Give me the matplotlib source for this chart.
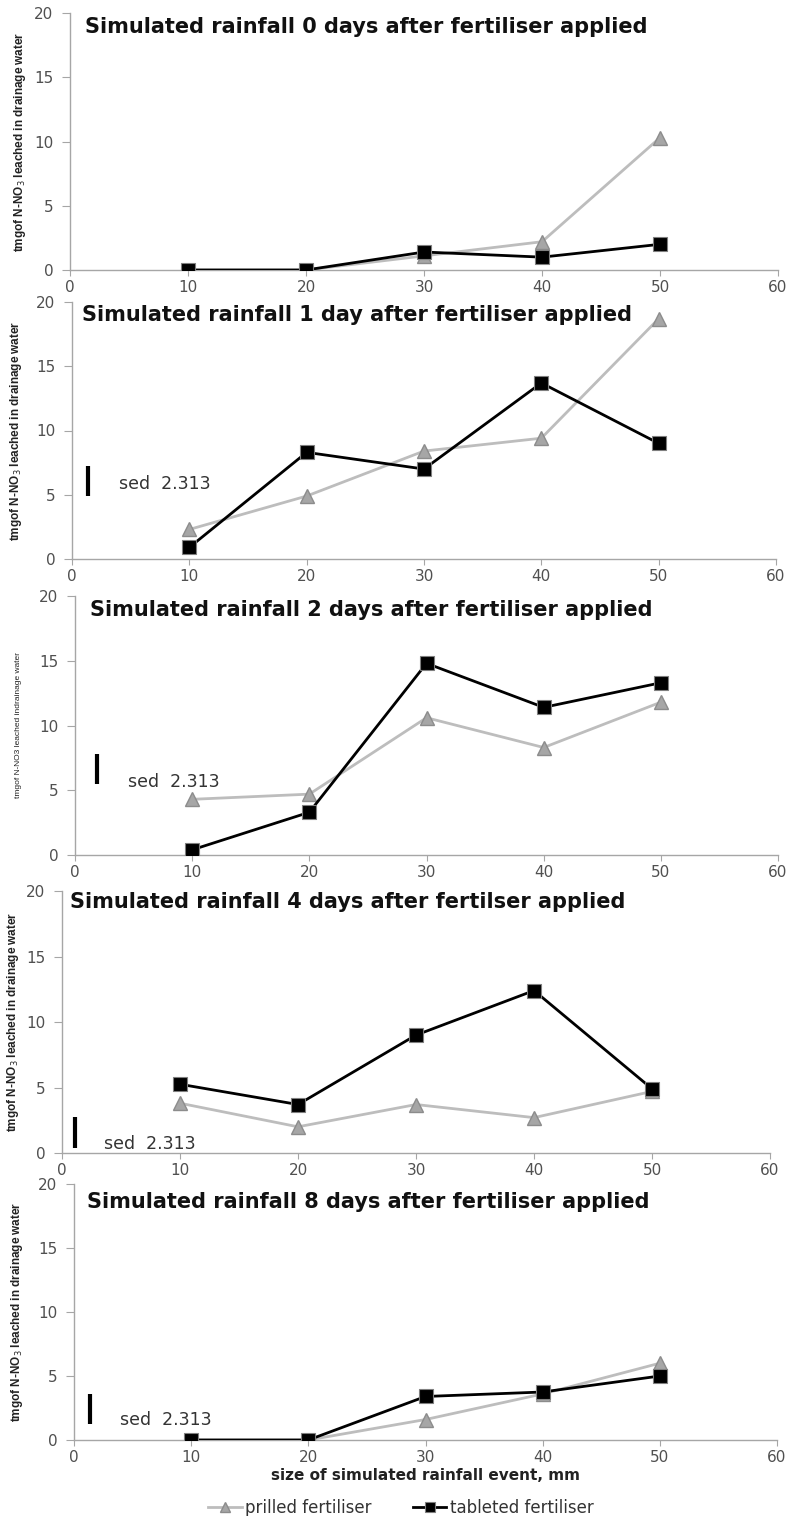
import numpy as np
import matplotlib.pyplot as plt

rain = [10, 20, 30, 40, 50]
days = [0, 1, 2, 4, 8]

prilled_0 = [0, 0, 1.1, 2.2, 10.3]
tableted_0 = [0, 0, 1.4, 1.0, 2.0]
prilled_1 = [2.3, 4.9, 8.4, 9.4, 18.7]
tableted_1 = [0.9, 8.3, 7.0, 13.7, 9.0]
prilled_2 = [4.3, 4.7, 10.6, 8.3, 11.8]
tableted_2 = [0.4, 3.3, 14.8, 11.4, 13.3]
prilled_4 = [3.8, 2.0, 3.7, 2.7, 4.7]
tableted_4 = [5.25, 3.7, 9.0, 12.4, 4.9]
prilled_8 = [0, 0, 1.6, 3.6, 6.0]
tableted_8 = [0, 0, 3.4, 3.75, 5.0]

sed = 2.313

titles = ["Simulated rainfall 0 days after fertiliser applied",
          "Simulated rainfall 1 day after fertiliser applied",
          "Simulated rainfall 2 days after fertiliser applied",
          "Simulated rainfall 4 days after fertilser applied",
          "Simulated rainfall 8 days after fertiliser applied"]
ylabels = [r"tmgof N-NO$_3$ leached in drainage water",
           r"tmgof N-NO$_3$ leached in drainage water",
           "tmgof N-NO3 leached indrainage water",
           r"tmgof N-NO$_3$ leached in drainage water",
           r"tmgof N-NO$_3$ leached in drainage water"]
prilled = [prilled_0, prilled_1, prilled_2, prilled_4, prilled_8]
tableted = [tableted_0, tableted_1, tableted_2, tableted_4, tableted_8]

# pixel boxes of each panel: left, right, top, bottom
W, H = 789, 1516
boxes = [(70, 778, 13, 270), (72, 776, 302, 559), (75, 778, 596, 855),
         (62, 770, 891, 1153), (74, 777, 1184, 1440)]
title_pos = [(0.021, 0.945), (0.014, 0.95), (0.022, 0.946), (0.011, 0.958), (0.018, 0.93)]
ylab_x = [-0.06, -0.068, -0.076, -0.058, -0.07]
# sed bar (x, bottom) and text (x, y) in data units; None for no bar
sed_bar = [None, (1.4, 4.9), (1.9, 5.5), (1.1, 0.4), (1.4, 1.25)]
sed_txt = [None, (4.0, 5.8), (4.5, 5.6), (3.6, 0.7), (3.9, 1.6)]

grey_line = "#bdbdbd"
tick_col = "#505050"
spine_col = "#a6a6a6"
narrow = ["Liberation Sans Narrow", "Liberation Sans", "DejaVu Sans"]

fig = plt.figure(figsize=(W / 100, H / 100), dpi=100)

for i in range(5):
    l, r, t, b = boxes[i]
    ax = fig.add_axes([l / W, 1 - b / H, (r - l) / W, (b - t) / H])
    ax.plot(rain, prilled[i], '-', color=grey_line, lw=2, marker='^', ms=10,
            mfc="#a6a6a6", mec="#8c8c8c", label="prilled fertiliser", zorder=3)
    ax.plot(rain, tableted[i], '-', color='black', lw=2, marker='s', ms=9.5,
            mfc='black', mec="#7f7f7f", mew=0.8, label="tableted fertiliser", zorder=4)

    ax.set_xlim(0, 60)
    ax.set_ylim(0, 20)
    ax.set_xticks(np.arange(0, 61, 10))
    ax.set_yticks(np.arange(0, 21, 5))
    for s in ['top', 'right']:
        ax.spines[s].set_visible(False)
    for s in ['left', 'bottom']:
        ax.spines[s].set_color(spine_col)
        ax.spines[s].set_linewidth(1)
    ax.tick_params(axis='both', colors=spine_col, labelcolor=tick_col, labelsize=11)
    ax.tick_params(axis='y', length=6, pad=6)
    ax.tick_params(axis='x', length=4, pad=3)

    ax.text(title_pos[i][0], title_pos[i][1], titles[i], transform=ax.transAxes,
            fontsize=15, fontweight='bold', color='#111111', va='center', ha='left')

    if i == 2:
        ax.set_ylabel(ylabels[i], fontsize=6, family=narrow, color='#222222')
    else:
        ax.set_ylabel(ylabels[i], fontsize=8.5, fontweight='bold', family=narrow, color='#222222')
    ax.yaxis.set_label_coords(ylab_x[i], 0.5)

    if sed_bar[i] is not None:
        bx, by = sed_bar[i]
        ax.plot([bx, bx], [by, by + sed], color='black', lw=3, solid_capstyle='butt', clip_on=False)
        tx, ty = sed_txt[i]
        ax.text(tx, ty, "sed  2.313", fontsize=12.5, color='#333333', va='center', ha='left')

    if i == 4:
        ax.set_xlabel("size of simulated rainfall event, mm", fontsize=11,
                      fontweight='bold', color='#222222', labelpad=2)
        ax.legend(loc='upper center', bbox_to_anchor=(0.465, -0.17), ncol=2, frameon=False,
                  fontsize=12, handlelength=2.0, columnspacing=2.5, handletextpad=0.2,
                  labelcolor='#333333', markerscale=0.75)

plt.savefig('out.png', dpi=100)
